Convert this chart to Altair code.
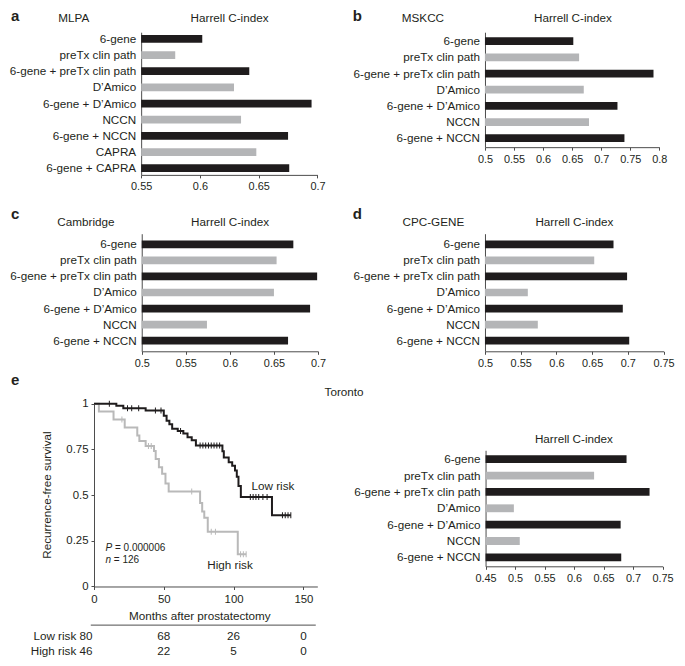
import altair as alt
import pandas as pd

# ------------------------------------------------------------------ data
models9 = ["6-gene", "preTx clin path", "6-gene + preTx clin path", "D’Amico",
           "6-gene + D’Amico", "NCCN", "6-gene + NCCN", "CAPRA", "6-gene + CAPRA"]
models7 = models9[:7]

cindex_mlpa = [0.602, 0.579, 0.642, 0.629, 0.695, 0.635, 0.675, 0.648, 0.676]
cindex_mskcc = [0.652, 0.662, 0.790, 0.670, 0.728, 0.679, 0.740]
cindex_cambridge = [0.672, 0.653, 0.699, 0.650, 0.691, 0.574, 0.666]
cindex_cpcgene = [0.680, 0.653, 0.699, 0.560, 0.693, 0.574, 0.702]
cindex_toronto = [0.689, 0.634, 0.728, 0.498, 0.679, 0.508, 0.680]

ticks_mlpa = [0.55, 0.6, 0.65, 0.7]
ticks_mskcc = [0.5, 0.55, 0.6, 0.65, 0.7, 0.75, 0.8]
ticks_cambridge = [0.5, 0.55, 0.6, 0.65, 0.7]
ticks_cpcgene = [0.5, 0.55, 0.6, 0.65, 0.7, 0.75]
ticks_toronto = [0.45, 0.5, 0.55, 0.6, 0.65, 0.7, 0.75]

cohorts = ["MLPA", "MSKCC", "Cambridge", "CPC-GENE", "Toronto"]
letters = ["a", "b", "c", "d", "e"]
cindex_title = "Harrell C-index"

# Kaplan-Meier (Toronto), step points
low_t = [0, 16, 21, 37, 50, 52, 54, 56, 60, 64, 67, 70, 73, 92, 93, 96.5, 99, 101,
         102.3, 103.5, 105.2, 127.5]
low_s = [1.0, 0.988, 0.975, 0.962, 0.934, 0.907, 0.887, 0.862, 0.85, 0.837, 0.816,
         0.80, 0.771, 0.74, 0.705, 0.68, 0.66, 0.634, 0.60, 0.55, 0.49, 0.39]
low_end = 141
low_censor = [11, 24, 27, 32, 44, 48, 62, 76, 78, 80, 82, 84, 86, 88, 90,
              112, 114, 116, 118, 121, 124, 135, 137, 139, 141]

high_t = [0, 3.5, 14, 22, 31, 32.5, 37, 43, 44.2, 46.5, 48.8, 51.2, 53.5, 76, 77.5,
          79, 81.5, 103]
high_s = [1.0, 0.957, 0.913, 0.87, 0.826, 0.795, 0.768, 0.741, 0.697, 0.652, 0.617,
          0.563, 0.52, 0.456, 0.41, 0.376, 0.30, 0.176]
high_end = 109
high_censor = [20, 39, 41, 70, 84, 87, 105, 107, 109]

km_xticks = [0, 50, 100, 150]
km_yticks = [0, 0.25, 0.5, 0.75, 1]
km_groups = ["Low risk", "High risk"]
risk_months = [0, 50, 100, 150]
risk_low = [80, 68, 26, 0]
risk_high = [46, 22, 5, 0]
km_xtitle = "Months after prostatectomy"
km_ytitle = "Recurrence-free survival"
p_value = "0.000006"
n_total = "126"

# ------------------------------------------------------------------ layout
W, H = 667, 650
SX, SY, Y0 = 0.974, 0.98, 2.0


def X(v):
    return round(SX * v, 2)


def Y(v):
    return round(SY * (v - Y0), 2)


INK = "#231f20"
BLACK = "#1f1c1d"
GREY = "#b4b5b7"
LINE_GREY = "#b9b9b9"
AXC = "#4d4d4d"
FONT = "Liberation Sans"
CAT = 11.7
TICKF = 10.9
TITLEF = 11.7
NUMFMT = ".6~g"


def bar_panel(models, values, ticks, xr, yr, pad_outer):
    df = pd.DataFrame({
        "model": models,
        "cindex": values,
        "base": [ticks[0]] * len(models),
        "kind": ["6-gene" if m.startswith("6-gene") else "clinical" for m in models],
    })
    return alt.Chart(df).mark_bar().encode(
        x=alt.X("cindex:Q",
                scale=alt.Scale(domain=[ticks[0], ticks[-1]], range=[X(xr[0]), X(xr[1])],
                                zero=False, nice=False),
                axis=alt.Axis(orient="bottom", offset=Y(yr[1]) - H, values=ticks, format=NUMFMT,
                              title=None, tickSize=3, labelPadding=3, labelFlush=False,
                              labelOverlap=False, grid=False)),
        x2="base:Q",
        y=alt.Y("model:N",
                scale=alt.Scale(domain=models, range=[Y(yr[0]), Y(yr[1])],
                                paddingInner=0.52, paddingOuter=pad_outer),
                axis=alt.Axis(orient="left", offset=-X(xr[0]), ticks=False, tickSize=0,
                              labelPadding=5.5, title=None, labelFontSize=CAT, labelLimit=400,
                              grid=False)),
        color=alt.Color("kind:N", scale=alt.Scale(domain=["6-gene", "clinical"],
                                                  range=[BLACK, GREY]), legend=None),
    )


def label(text, x, y, size=TITLEF, align="center", baseline="middle", weight="normal",
          style="normal", angle=0):
    return alt.Chart(pd.DataFrame({"t": [text]})).mark_text(
        font=FONT, fontSize=size, align=align, baseline=baseline, fontWeight=weight,
        fontStyle=style, angle=angle, color=INK
    ).encode(x=alt.value(X(x)), y=alt.value(Y(y)), text="t:N")


bar_a = bar_panel(models9, cindex_mlpa, ticks_mlpa, (136.7, 317.7), (26.7, 172.3), 0.172)
bar_b = bar_panel(models7, cindex_mskcc, ticks_mskcc, (489.7, 668.7), (26.7, 144.0), 0.315)
bar_c = bar_panel(models7, cindex_cambridge, ticks_cambridge, (137.3, 318.3), (232.3, 352.3), 0.419)
bar_d = bar_panel(models7, cindex_cpcgene, ticks_cpcgene, (489.7, 673.0), (232.3, 352.3), 0.419)
bar_t = bar_panel(models7, cindex_toronto, ticks_toronto, (490.3, 672.0), (453.3, 571.7), 0.305)

# ------------------------------------------------------------------ KM panel
km_x = alt.Scale(domain=[0, 160], range=[X(88.3), X(317.6)], zero=False, nice=False)
km_y = alt.Scale(domain=[0, 1], range=[Y(592.3), Y(405.7)], zero=False, nice=False)
km_x_axis = alt.Axis(orient="bottom", offset=Y(592.3) - H, values=km_xticks, format=NUMFMT,
                     title=None, tickSize=3, labelPadding=4, labelFlush=False,
                     labelOverlap=False, grid=False, labelFontSize=11.4)
km_y_axis = alt.Axis(orient="left", offset=-X(88.3), values=km_yticks, format=NUMFMT,
                     title=None, tickSize=3, labelPadding=3, labelFlush=False,
                     labelOverlap=False, grid=False, labelFontSize=11.4)


def surv_at(ts, ss, t):
    v = ss[0]
    for ti, si in zip(ts, ss):
        if ti <= t:
            v = si
    return v


def km_line(ts, ss, end, color):
    df = pd.DataFrame({"month": ts + [end], "surv": ss + [ss[-1]]})
    return alt.Chart(df).mark_line(interpolate="step-after", color=color, strokeWidth=2).encode(
        x=alt.X("month:Q", scale=km_x, axis=km_x_axis),
        y=alt.Y("surv:Q", scale=km_y, axis=km_y_axis),
    )


def km_cens(ts, ss, cens, color):
    df = pd.DataFrame({"month": cens, "surv": [surv_at(ts, ss, c) for c in cens]})
    return alt.Chart(df).mark_tick(orient="vertical", size=6, thickness=1, color=color,
                                   opacity=1).encode(
        x=alt.X("month:Q", scale=km_x, axis=km_x_axis),
        y=alt.Y("surv:Q", scale=km_y, axis=km_y_axis),
    )


risk_rows = []
for grp, counts, yrow in [(km_groups[0], risk_low, 643.0), (km_groups[1], risk_high, 658.5)]:
    df = pd.DataFrame({"month": risk_months, "n": counts})
    df["label"] = [f"{grp} {n}" if m == 0 else str(n) for m, n in zip(risk_months, counts)]
    base = alt.Chart(df)
    risk_rows.append(base.transform_filter("datum.month == 0").mark_text(
        font=FONT, fontSize=TITLEF, align="right", baseline="middle", color=INK, dx=-1.5
    ).encode(x=alt.X("month:Q", scale=km_x, axis=km_x_axis), y=alt.value(Y(yrow)), text="label:N"))
    risk_rows.append(base.transform_filter("datum.month > 0").mark_text(
        font=FONT, fontSize=TITLEF, align="center", baseline="middle", color=INK
    ).encode(x=alt.X("month:Q", scale=km_x, axis=km_x_axis), y=alt.value(Y(yrow)), text="label:N"))

km = alt.layer(
    km_line(high_t, high_s, high_end, LINE_GREY),
    km_cens(high_t, high_s, high_censor, LINE_GREY),
    km_line(low_t, low_s, low_end, BLACK),
    km_cens(low_t, low_s, low_censor, BLACK),
    *risk_rows,
).resolve_scale(x="shared", y="shared")

risk_rule = alt.Chart(pd.DataFrame({"r": [0]})).mark_rule(color=AXC, strokeWidth=1).encode(
    x=alt.value(X(85)), x2=alt.value(X(316)), y=alt.value(Y(631.7)))

texts = [
    label(letters[0], 3, 15, size=15, align="left", baseline="alphabetic", weight="bold"),
    label(cohorts[0], 67.5, 12.3),
    label(cindex_title, 227.5, 12.3),
    label(letters[1], 354, 15, size=15, align="left", baseline="alphabetic", weight="bold"),
    label(cohorts[1], 426, 12.3),
    label(cindex_title, 580, 12.3),
    label(letters[2], 3, 217, size=15, align="left", baseline="alphabetic", weight="bold"),
    label(cohorts[2], 80, 220.5),
    label(cindex_title, 228, 220.5),
    label(letters[3], 354, 217, size=15, align="left", baseline="alphabetic", weight="bold"),
    label(cohorts[3], 436.7, 220.5),
    label(cindex_title, 581.5, 220.5),
    label(letters[4], 3, 387, size=15, align="left", baseline="alphabetic", weight="bold"),
    label(cohorts[4], 345, 394),
    label(cindex_title, 581, 441.7),
    label(km_ytitle, 40, 499, angle=270),
    label(km_xtitle, 197, 622),
    label(km_groups[0], 272, 490),
    label(km_groups[1], 228, 570),
    label("P", 100, 552.7, size=10, align="left", style="italic"),
    label("= " + p_value, 109.8, 552.7, size=10, align="left"),
    label("n", 100, 565, size=10, align="left", style="italic"),
    label("= " + n_total, 108.6, 565, size=10, align="left"),
]

chart = alt.layer(
    bar_a, bar_b, bar_c, bar_d, bar_t, km, risk_rule, *texts
).resolve_scale(
    x="independent", y="independent"
).properties(
    width=W, height=H, autosize=alt.AutoSizeParams(type="none"), padding=0
).configure_axis(
    labelFont=FONT, labelColor=INK, labelFontSize=TICKF, domainColor=AXC, tickColor=AXC,
    domainWidth=1, tickWidth=1, grid=False
).configure_view(stroke=None)

chart.save("out.html", embed_options={"renderer": "svg", "actions": False})
